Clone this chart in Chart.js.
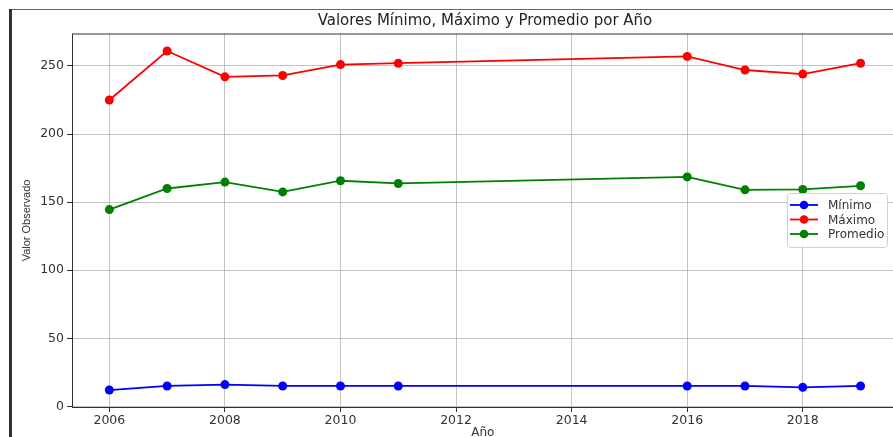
<!DOCTYPE html>
<html lang="es">
  <head>
    <meta charset="UTF-8" />
    <title>Valores por Año</title>
    <script src="https://cdn.jsdelivr.net/npm/chart.js"></script>
    <style>
      html, body { margin: 0; background: #fff; overflow: hidden; }
      canvas { display: block; }
    </style>
  </head>
  <body>
    <canvas id="chart" width="898" height="437"></canvas>
    <script>
      const years = [2006, 2007, 2008, 2009, 2010, 2011, 2016, 2017, 2018, 2019];
      const minimo = [12, 15, 16, 15, 15, 15, 15, 15, 14, 15];
      const maximo = [225, 261, 242, 243, 251, 252, 257, 247, 244, 252];
      const promedio = [144.5, 160, 164.7, 157.5, 165.7, 163.7, 168.5, 159, 159.3, 162];
      const seriesNames = ["Mínimo", "Máximo", "Promedio"];
      const seriesColors = ["#0000ff", "#ff0000", "#008000"];
      const chartTitle = "Valores Mínimo, Máximo y Promedio por Año";

      const toPoints = (vals) => vals.map((v, i) => ({ x: years[i], y: v }));

      const frame = {
        id: "frame",
        afterDraw(chart) {
          const ctx = chart.ctx;
          const a = chart.chartArea;
          ctx.save();
          // figure border
          ctx.fillStyle = "#333";
          ctx.fillRect(9, 9, 3, 428);
          ctx.fillStyle = "#666";
          ctx.fillRect(12, 9, 890, 1);
          // top spine
          ctx.fillStyle = "#333";
          ctx.fillRect(a.left, a.top - 0.5, a.right - a.left, 1);

          // title, centred over the full axes span
          const xs = chart.scales.x;
          ctx.font = "15px 'DejaVu Sans'";
          ctx.fillStyle = "#222";
          ctx.textAlign = "center";
          ctx.textBaseline = "middle";
          ctx.fillText(chartTitle, xs.getPixelForValue(2012.5), 21);

          // legend
          const bx = 787, by = 193, bw = 100, bh = 54;
          ctx.beginPath();
          ctx.roundRect(bx + 0.5, by + 0.5, bw, bh, 3);
          ctx.fillStyle = "rgba(255,255,255,0.85)";
          ctx.fill();
          ctx.strokeStyle = "#d0d0d0";
          ctx.lineWidth = 1;
          ctx.stroke();
          ctx.font = "12px 'DejaVu Sans'";
          ctx.textAlign = "left";
          chart.data.datasets.forEach((ds, i) => {
            const y = by + 12 + i * 14.5;
            ctx.strokeStyle = ds.borderColor;
            ctx.lineWidth = 1.8;
            ctx.beginPath();
            ctx.moveTo(790, y);
            ctx.lineTo(818, y);
            ctx.stroke();
            ctx.fillStyle = ds.borderColor;
            ctx.beginPath();
            ctx.arc(804, y, 4.3, 0, Math.PI * 2);
            ctx.fill();
            ctx.fillStyle = "#333";
            ctx.fillText(ds.label, 828, y + 1);
          });
          ctx.restore();
        },
      };

      const tickFont = { family: "'DejaVu Sans'", size: 12.5 };
      const gridColor = "rgba(176,176,176,0.75)";

      new Chart(document.getElementById("chart"), {
        type: "line",
        data: {
          datasets: [minimo, maximo, promedio].map((vals, i) => ({
            label: seriesNames[i],
            data: toPoints(vals),
            borderColor: seriesColors[i],
            backgroundColor: seriesColors[i],
            borderWidth: 1.8,
            pointRadius: 4.5,
            pointHoverRadius: 4.5,
            pointBorderWidth: 0,
            tension: 0,
          })),
        },
        options: {
          responsive: false,
          animation: false,
          devicePixelRatio: 1,
          layout: { padding: { top: 34, left: 0, right: 0, bottom: 0 } },
          plugins: {
            legend: { display: false },
            title: { display: false },
            tooltip: { enabled: false },
          },
          scales: {
            x: {
              type: "linear",
              min: 2005.354,
              max: 2019.57,
              afterFit: (s) => {
                s.height = 30;
                s.paddingRight = 0;
                s.paddingLeft = 0;
              },
              ticks: {
                stepSize: 2,
                includeBounds: false,
                padding: 1,
                color: "#333",
                font: tickFont,
                maxRotation: 0,
                callback: (v) => String(v),
              },
              grid: { color: gridColor, tickColor: "#333", tickLength: 5 },
              border: { color: "#333", width: 1 },
              title: {
                display: true,
                text: "Año",
                color: "#333",
                font: { family: "'DejaVu Sans'", size: 12 },
                padding: { top: 0, bottom: -3 },
              },
            },
            y: {
              min: -0.45,
              max: 273.45,
              afterFit: (s) => { s.width = 72; },
              ticks: {
                stepSize: 50,
                includeBounds: false,
                padding: 3,
                color: "#333",
                font: tickFont,
              },
              grid: { color: gridColor, tickColor: "#333", tickLength: 5 },
              border: { color: "#333", width: 1 },
              title: {
                display: true,
                text: "Valor Observado",
                color: "#333",
                font: { family: "'Liberation Sans'", size: 11 },
                padding: { top: 20, bottom: 0 },
              },
            },
          },
        },
        plugins: [frame],
      });
    </script>
  </body>
</html>
